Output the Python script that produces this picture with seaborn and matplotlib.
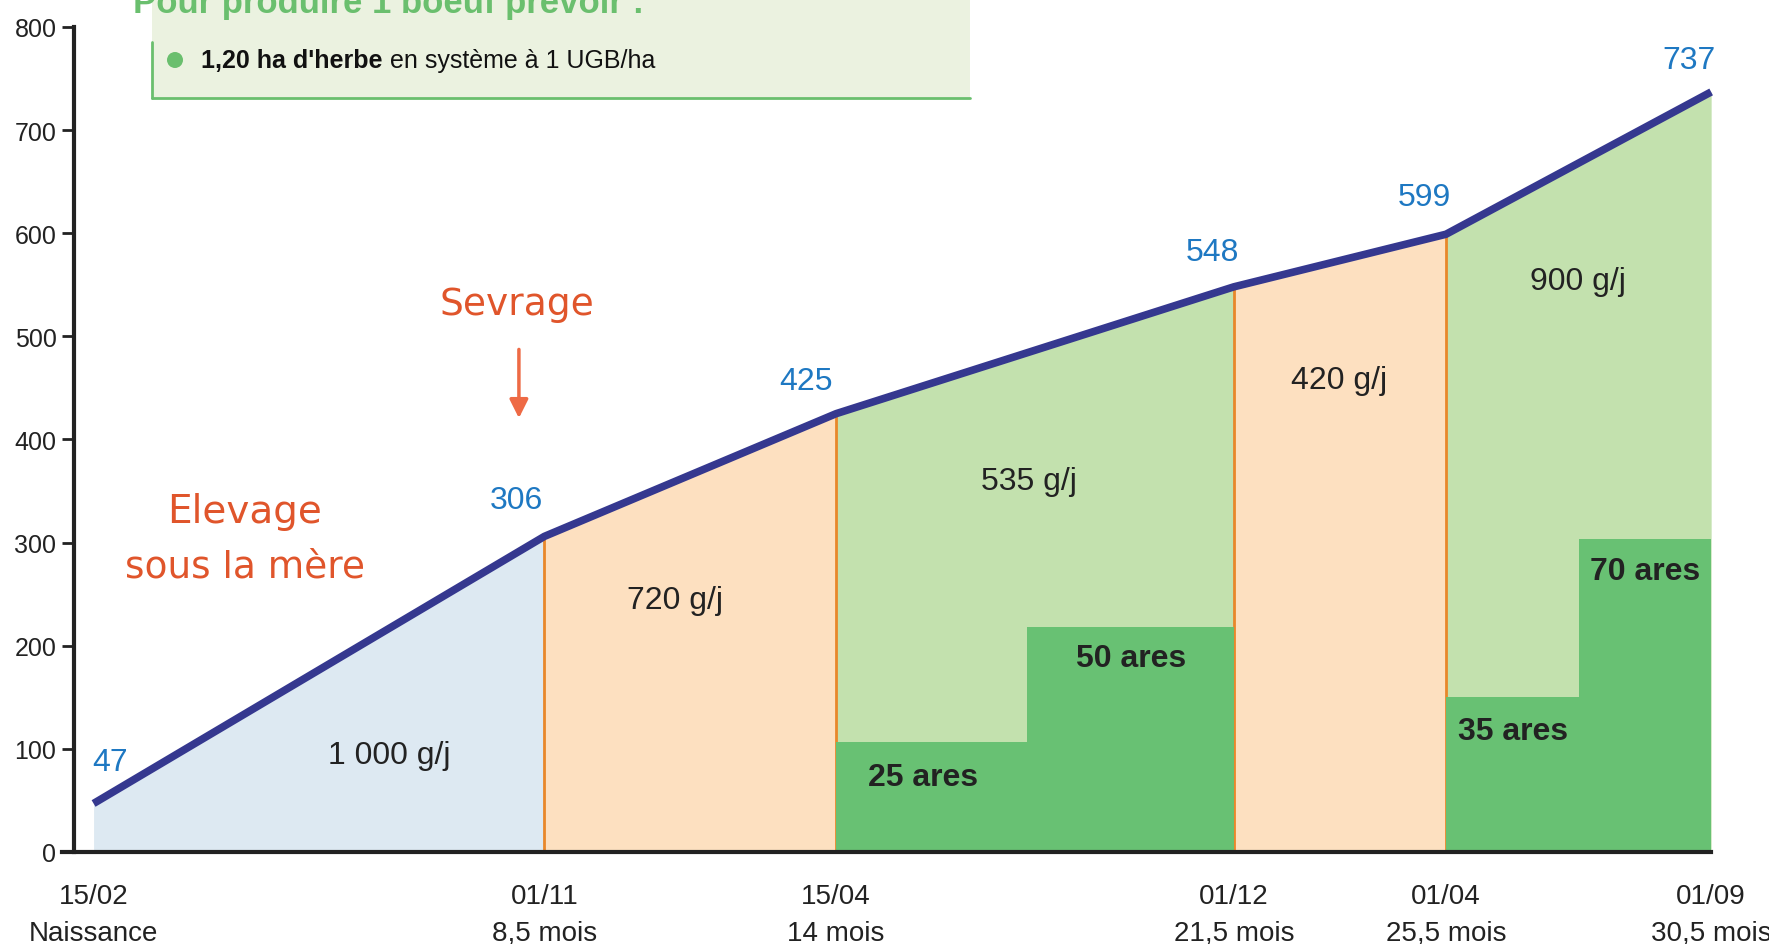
import numpy as np
import matplotlib
matplotlib.use("Agg")
import matplotlib.pyplot as plt
from matplotlib.patches import Rectangle, Circle
from matplotlib.lines import Line2D
from matplotlib.transforms import IdentityTransform
import seaborn as sns

# data
ages = [0, 8.5, 14, 21.5, 25.5, 30.5]
weights = [47, 306, 425, 548, 599, 737]
dates = ['15/02', '01/11', '15/04', '01/12', '01/04', '01/09']
age_labels = ['Naissance', '8,5 mois', '14 mois', '21,5 mois', '25,5 mois', '30,5 mois']
gains = ['1 000 g/j', '720 g/j', '535 g/j', '420 g/j', '900 g/j']
periods = ['mere', 'bergerie', 'herbe', 'bergerie', 'herbe']

pasture_start = [14, 17.6, 25.5, 28]
pasture_end = [17.6, 21.5, 28, 30.5]
pasture_height = [107, 218, 150, 303]
pasture_labels = ['25 ares', '50 ares', '35 ares', '70 ares']

period_colors = {'mere': '#dde9f2', 'bergerie': '#fde0c0', 'herbe': '#c3e1ae'}
dark_green = '#68c173'
orange = '#e8872a'
navy = '#35388f'
blue = '#1e78c2'
red = '#e0552b'

sns.set_theme(style='ticks')
plt.rcParams['font.family'] = ['Liberation Sans Narrow', 'Liberation Sans', 'DejaVu Sans']

fig = plt.figure(figsize=(17.69, 9.45), dpi=100)
ax = fig.add_axes([0.0421, 0.0974, 0.9252, 0.873])
ax.patch.set_visible(False)

for i, p in enumerate(periods):
    ax.fill_between(ages[i:i + 2], weights[i:i + 2], color=period_colors[p], lw=0, zorder=1)
    if p == 'bergerie':
        ax.vlines(ages[i:i + 2], 0, weights[i:i + 2], color=orange, lw=2, zorder=2)

ax.bar(pasture_start, pasture_height, width=np.subtract(pasture_end, pasture_start),
       align='edge', color=dark_green, lw=0, zorder=2)

sns.lineplot(x=ages, y=weights, color=navy, lw=5.5, ax=ax, zorder=5, clip_on=False,
             solid_capstyle='butt')

# labels
kw = dict(ha='center', va='center')
label_pos = [(0.32, 87), (7.98, 341), (13.43, 457), (21.09, 582), (25.09, 635), (30.09, 768)]
for (x, y), w in zip(label_pos, weights):
    ax.text(x, y, str(w), color=blue, fontsize=23, **kw)

gain_pos = [(5.57, 94), (10.96, 244), (17.64, 360), (23.49, 458), (27.98, 554)]
for (x, y), g in zip(gain_pos, gains):
    ax.text(x, y, g, color='#222222', fontsize=23, **kw)

pasture_pos = [(15.64, 73), (19.57, 188), (26.77, 117), (29.26, 272)]
for (x, y), s in zip(pasture_pos, pasture_labels):
    ax.text(x, y, s, color='#222222', fontsize=23, fontweight='bold', **kw)

hand = ['DejaVu Sans']
ax.text(2.85, 331, 'Elevage', color=red, fontsize=28, family=hand, **kw)
ax.text(2.85, 277, 'sous la mère', color=red, fontsize=27, family=hand, **kw)
ax.text(7.98, 531, 'Sevrage', color=red, fontsize=27, family=hand, **kw)
ax.annotate('', xy=(8.02, 418), xytext=(8.02, 490),
            arrowprops=dict(arrowstyle='-|>', color='#ee6a45', lw=2.5, mutation_scale=28))

# axes
ax.set_xlim(-0.36, 30.5)
ax.set_ylim(0, 800)
ax.set_yticks(range(0, 801, 100))
ax.set_xticks(ages)
ax.set_xticklabels([f'{d}\n{a}' for d, a in zip(dates, age_labels)], fontsize=20, linespacing=1.55)
ax.tick_params(axis='x', length=0, pad=22, colors='#222222')
ax.tick_params(axis='y', length=9, width=2, pad=4, labelsize=18, colors='#222222')
sns.despine(ax=ax)
for s in ['left', 'bottom']:
    ax.spines[s].set_linewidth(3)
    ax.spines[s].set_color('#222222')
ax.spines['bottom'].set_bounds(-0.6, 30.5)

# header box
W, H = 1769, 945
green = '#6abf6e'
fig.add_artist(Rectangle((152 / W, 1 - 99 / H), (970 - 152) / W, 99 / H,
                         transform=fig.transFigure, facecolor='#ebf2e0', lw=0, zorder=1))
fig.add_artist(Line2D([152 / W, 152 / W], [1 - 43 / H, 1 - 99 / H], color=green, lw=2,
                      transform=fig.transFigure, zorder=2))
fig.add_artist(Line2D([152 / W, 970 / W], [1 - 99 / H, 1 - 99 / H], color=green, lw=2,
                      transform=fig.transFigure, zorder=2))
fig.text(133 / W, 1 - 4 / H, 'Pour produire 1 boeuf prévoir :', color=green, fontsize=25,
         fontweight='bold', va='center', ha='left', zorder=3)
fig.add_artist(Circle((175, H - 61), 8, transform=IdentityTransform(),
                      color=green, lw=0, zorder=3))
t1 = fig.text(201 / W, 1 - 68 / H, "1,20 ha d'herbe", fontsize=18, fontweight='bold',
              color='#111111', va='baseline', ha='left', zorder=3)
fig.canvas.draw()
bb = t1.get_window_extent(fig.canvas.get_renderer())
fig.text(bb.x1 / W, 1 - 68 / H, ' en système à 1 UGB/ha', fontsize=18,
         color='#111111', va='baseline', ha='left', zorder=3)

fig.savefig('out.png', dpi=100)
